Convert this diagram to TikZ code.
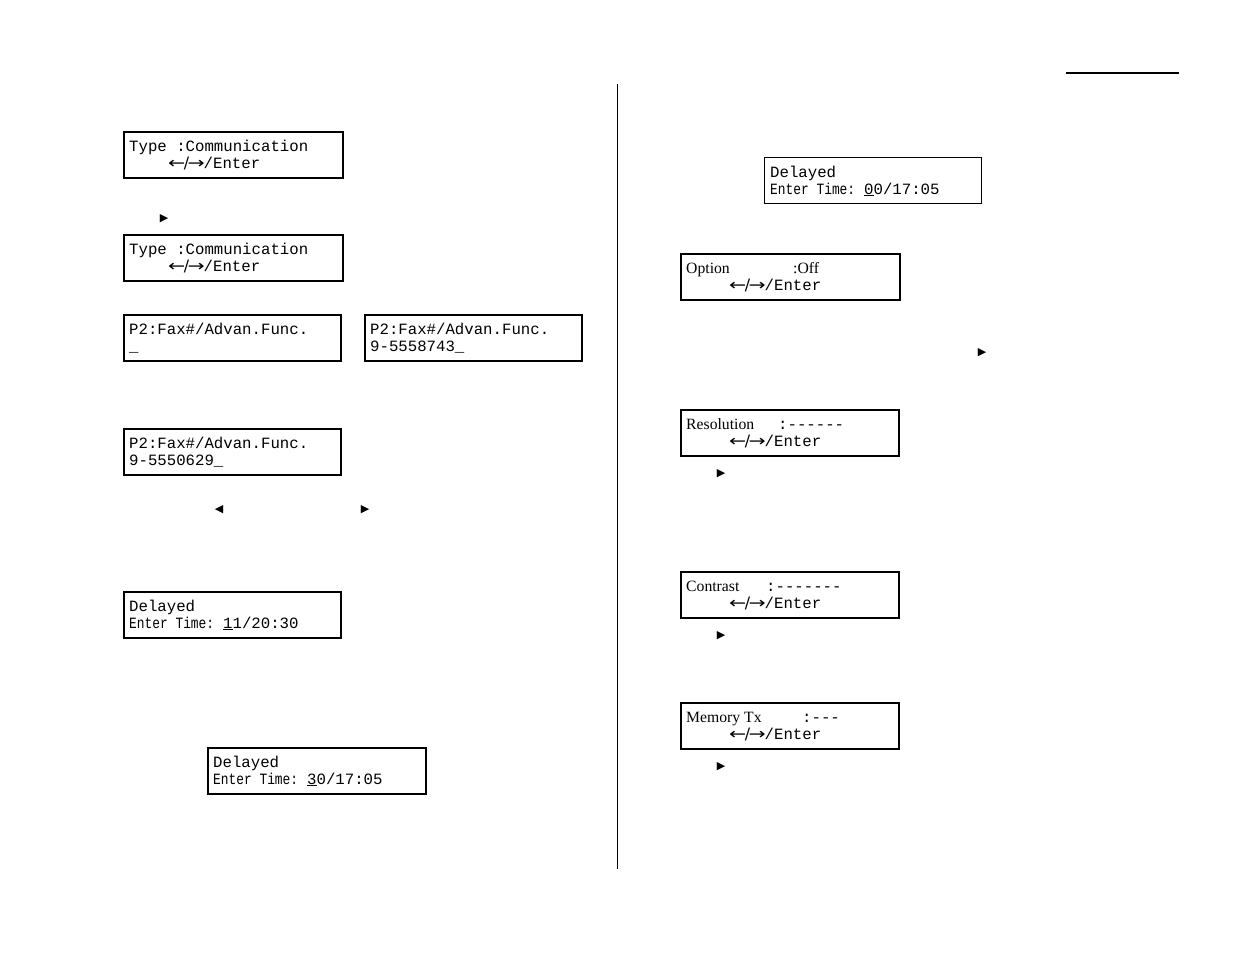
\documentclass[tikz,border=0pt]{standalone}
\usepackage{fontspec}
\usetikzlibrary{calc}
\newfontfamily\lcdfont{Liberation Mono}
\newfontfamily\lblfont{Liberation Serif}
\newfontfamily\symfont{DejaVu Sans}
\newcommand{\lcd}{\lcdfont\fontsize{15.7}{17}\selectfont}
\newcommand{\lbl}{\lblfont\fontsize{15.7}{17}\selectfont}
\newcommand{\arrline}{{\symfont\fontsize{15.7}{17}\selectfont\scalebox{1.3}[1]{←}\kern-1.5pt/\kern-1.5pt\scalebox{1.3}[1]{→}}\kern-1pt/Enter}
\newcommand{\entertime}{\scalebox{0.82}[1]{Enter Time:}}
\begin{document}
\begin{tikzpicture}[x=1pt,y=-1pt,
  lcdbox/.style={draw, line width=1.5pt, inner sep=0pt, anchor=north west, minimum width=#1, minimum height=46},
  lcdbox/.default=218,
  txt/.style={anchor=base west, inner sep=0pt, font=\lcd},
  lbltxt/.style={anchor=base west, inner sep=0pt, font=\lbl},
  tri/.style={inner sep=0pt, anchor=center, font=\symfont\fontsize{11}{11}\selectfont}]
\useasboundingbox (0,0) rectangle (1235,954);

% top right rule and centre divider
\coordinate (r1) at (1066,73);
\coordinate (r2) at (1179,73);
\draw[line width=1.2pt] (r1) -- (r2);
\coordinate (d1) at (617,84);
\coordinate (d2) at (617,869);
\draw[line width=0.9pt] (d1) -- (d2);

% ---------- left column ----------
\node[lcdbox=219] (b1) at (123,131) {};
\node[txt] (b1a) at ($(b1.north west)+(6,20)$) {Type :Communication};
\node[txt] (b1b) at ($(b1.north west)+(45,37)$) {\arrline};

\node[tri] (a1) at (164,219) {▶};

\node[lcdbox=219] (b2) at (123,234) {};
\node[txt] (b2a) at ($(b2.north west)+(6,20)$) {Type :Communication};
\node[txt] (b2b) at ($(b2.north west)+(45,37)$) {\arrline};

\node[lcdbox=217] (b3) at (123,314) {};
\node[txt] (b3a) at ($(b3.north west)+(6,20)$) {P2:Fax\#/Advan.Func.};
\node[txt] (b3b) at ($(b3.north west)+(6,37)$) {\_};

\node[lcdbox=217] (b4) at (364,314) {};
\node[txt] (b4a) at ($(b4.north west)+(6,20)$) {P2:Fax\#/Advan.Func.};
\node[txt] (b4b) at ($(b4.north west)+(6,37)$) {9-5558743\_};

\node[lcdbox=217] (b5) at (123,428) {};
\node[txt] (b5a) at ($(b5.north west)+(6,20)$) {P2:Fax\#/Advan.Func.};
\node[txt] (b5b) at ($(b5.north west)+(6,37)$) {9-5550629\_};

\node[tri] (a2) at (219,510) {◀};
\node[tri] (a3) at (365,510) {▶};

\node[lcdbox=217] (b6) at (123,591) {};
\node[txt] (b6a) at ($(b6.north west)+(6,20)$) {Delayed};
\node[txt] (b6b) at ($(b6.north west)+(6,37)$) {\entertime};
\node[txt] (b6c) at ($(b6.north west)+(100,37)$) {\underline{1}1/20:30};

\node[lcdbox=218] (b7) at (207,747) {};
\node[txt] (b7a) at ($(b7.north west)+(6,20)$) {Delayed};
\node[txt] (b7b) at ($(b7.north west)+(6,37)$) {\entertime};
\node[txt] (b7c) at ($(b7.north west)+(100,37)$) {\underline{3}0/17:05};

% ---------- right column ----------
\node[lcdbox=217, line width=1pt] (b8) at (764,157) {};
\node[txt] (b8a) at ($(b8.north west)+(6,20)$) {Delayed};
\node[txt] (b8b) at ($(b8.north west)+(6,37)$) {\entertime};
\node[txt] (b8c) at ($(b8.north west)+(100,37)$) {\underline{0}0/17:05};

\node[lcdbox=219] (b9) at (680,253) {};
\node[lbltxt] (b9a) at ($(b9.north west)+(6,20)$) {Option};
\node[lbltxt] (b9c) at ($(b9.north west)+(113,20)$) {:Off};
\node[txt] (b9b) at ($(b9.north west)+(49,37)$) {\arrline};

\node[tri] (a4) at (982,353) {▶};

\node[lcdbox=218] (b10) at (680,409) {};
\node[lbltxt] (b10a) at ($(b10.north west)+(6,20)$) {Resolution};
\node[txt] (b10c) at ($(b10.north west)+(98,20)$) {:------};
\node[txt] (b10b) at ($(b10.north west)+(49,37)$) {\arrline};

\node[tri] (a5) at (721,474) {▶};

\node[lcdbox=218] (b11) at (680,571) {};
\node[lbltxt] (b11a) at ($(b11.north west)+(6,20)$) {Contrast};
\node[txt] (b11c) at ($(b11.north west)+(86,20)$) {:-------};
\node[txt] (b11b) at ($(b11.north west)+(49,37)$) {\arrline};

\node[tri] (a6) at (721,636) {▶};

\node[lcdbox=218] (b12) at (680,702) {};
\node[lbltxt] (b12a) at ($(b12.north west)+(6,20)$) {Memory Tx};
\node[txt] (b12c) at ($(b12.north west)+(122,20)$) {:---};
\node[txt] (b12b) at ($(b12.north west)+(49,37)$) {\arrline};

\node[tri] (a7) at (721,767) {▶};
\end{tikzpicture}
\end{document}
